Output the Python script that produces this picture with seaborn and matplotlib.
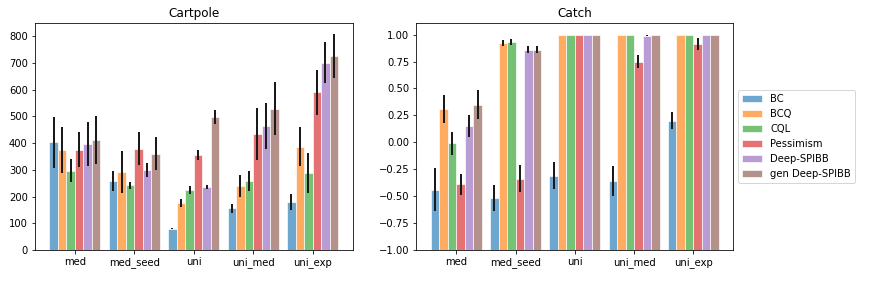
import numpy as np
import pandas as pd
import matplotlib
matplotlib.use("Agg")
import matplotlib.pyplot as plt
import seaborn as sns

# Datasets on the x axis and the methods shown as hue.
datasets = ["med", "med_seed", "uni", "uni_med", "uni_exp"]
methods = ["BC", "BCQ", "CQL", "Pessimism", "Deep-SPIBB", "gen Deep-SPIBB"]

# Cartpole mean returns (rows = methods, columns = datasets) and error half-widths.
cartpole_mean = [
    [403, 259, 79, 156, 181],
    [375, 292, 176, 240, 387],
    [297, 242, 224, 259, 290],
    [375, 379, 356, 434, 590],
    [398, 300, 235, 466, 701],
    [411, 360, 497, 529, 727],
]
cartpole_err = [
    [95, 37, 2, 16, 30],
    [87, 77, 14, 42, 72],
    [42, 14, 16, 38, 75],
    [66, 61, 20, 96, 83],
    [82, 25, 8, 86, 76],
    [89, 62, 27, 99, 82],
]

# Catch mean returns and error half-widths.
catch_mean = [
    [-0.44, -0.52, -0.31, -0.36, 0.20],
    [0.31, 0.92, 1.00, 1.00, 1.00],
    [-0.01, 0.93, 1.00, 1.00, 1.00],
    [-0.39, -0.34, 1.00, 0.75, 0.915],
    [0.15, 0.86, 1.00, 0.99, 1.00],
    [0.35, 0.86, 1.00, 1.00, 1.00],
]
catch_err = [
    [0.20, 0.12, 0.125, 0.14, 0.08],
    [0.13, 0.03, 0.0, 0.0, 0.0],
    [0.11, 0.03, 0.0, 0.0, 0.0],
    [0.10, 0.125, 0.0, 0.06, 0.055],
    [0.10, 0.03, 0.0, 0.005, 0.0],
    [0.135, 0.03, 0.0, 0.0, 0.0],
]


def to_frame(means, errs, base):
    rows = []
    for m, method in enumerate(methods):
        for d, dataset in enumerate(datasets):
            # bar height measured from the baseline of the axis
            rows.append([dataset, method, means[m][d] - base, errs[m][d]])
    return pd.DataFrame(rows, columns=["dataset", "method", "value", "err"])


def draw(ax, means, errs, title, base=0):
    df = to_frame(means, errs, base)
    sns.barplot(data=df, x="dataset", y="value", hue="method", ax=ax,
                order=datasets, hue_order=methods, palette="tab10",
                saturation=1, errorbar=None, width=0.86, alpha=0.65,
                edgecolor="white", linewidth=1, bottom=base, legend=False)
    # error bars on top of each bar, taken from the bars seaborn drew
    for m, container in enumerate(ax.containers):
        for d, patch in enumerate(container.patches):
            e = errs[m][d]
            if e <= 0:
                continue
            x = patch.get_x() + patch.get_width() / 2
            y = means[m][d]
            ax.plot([x, x], [y - e, y + e], color="#1a1a1a", lw=2, solid_capstyle="butt")
    ax.set_title(title, fontsize=12)
    ax.set_xlabel("")
    ax.set_ylabel("")
    ax.set_xlim(-0.675, 4.675)
    ax.tick_params(labelsize=10)


fig = plt.figure(figsize=(869 / 72, 282 / 72), dpi=72)
ax1 = fig.add_axes([0.040, 0.1135, 0.366, 0.805])
ax2 = fig.add_axes([0.479, 0.1135, 0.365, 0.805])

draw(ax1, cartpole_mean, cartpole_err, "Cartpole")
ax1.set_ylim(0, 850)

draw(ax2, catch_mean, catch_err, "Catch", base=-1.0)
ax2.set_ylim(-1.0, 1.108)
ax2.set_yticks(np.arange(-1.0, 1.01, 0.25))

handles = [c.patches[0] for c in ax2.containers]
ax2.legend(handles, methods, loc="center left", bbox_to_anchor=(1.0, 0.5),
           fontsize=10, frameon=True)

fig.savefig("out.png", dpi=72)
